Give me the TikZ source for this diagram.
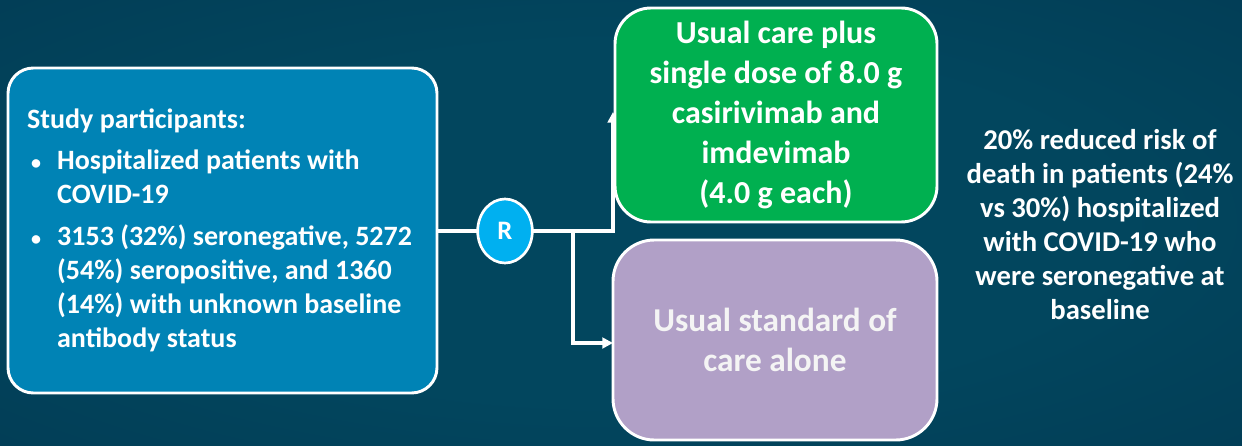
\documentclass[tikz,border=0pt]{standalone}
\usepackage{fontspec}
\setmainfont{Carlito}
\usetikzlibrary{arrows.meta,shapes.geometric}
\definecolor{bgin}{HTML}{02465E}
\definecolor{bgout}{HTML}{01304A}
\definecolor{boxblue}{HTML}{0083B5}
\definecolor{boxgreen}{HTML}{00B050}
\definecolor{boxpurple}{HTML}{B1A0C7}
\definecolor{rblue}{HTML}{00B0F0}
\definecolor{softwhite}{HTML}{F4F4F4}
\pgfdeclareradialshading{bgshade}{\pgfpoint{0bp}{0bp}}{color(0bp)=(bgin); color(20bp)=(bgin); color(62bp)=(bgout); color(75bp)=(bgout)}
\newcommand{\bul}{\hspace*{3pt}\makebox[19.5pt][l]{\fontsize{15pt}{15pt}\selectfont •}}
\newcommand{\ind}{\hspace*{22.5pt}}
\tikzset{
  boxbase/.style={draw=white, line width=2.2pt, text=white, font=\bfseries, align=center, inner sep=0pt},
  rnode/.style={ellipse, draw=white, line width=2pt, fill=rblue, minimum width=41pt, minimum height=48pt, inner sep=0pt, text=white, font=\bfseries\fontsize{20pt}{22pt}\selectfont},
  conn/.style={draw=white, line width=2.4pt},
  tip/.style={-{Triangle[length=8pt,width=8pt]}},
}
\begin{document}
\begin{tikzpicture}[x=0.75pt,y=-0.75pt]
\useasboundingbox (0,0) rectangle (1242,446);
\shade[shading=bgshade] (0,0) rectangle (1242,446);
\coordinate (Rc) at (505,231);
\coordinate (split) at (573,231);
\coordinate (up) at (613,112);
\coordinate (low) at (613,343);
\node[boxbase, fill=boxblue, rounded corners=19pt, minimum width=321.75pt, minimum height=243.75pt, align=left, font=\bfseries\fontsize{21pt}{25.5pt}\selectfont] (left) at (222.5,230.5) {%
\raisebox{-3pt}{\begin{minipage}{293pt}\raggedright
Study participants:\\[5pt]
\bul Hospitalized patients with\\
\ind COVID-19\\[6pt]
\bul 3153 (32\%) seronegative, 5272\\
\ind (54\%) seropositive, and 1360\\
\ind (14\%) with unknown baseline\\
\ind antibody status
\end{minipage}}};
\draw[conn] (left.east |- Rc) -- (Rc);
\draw[conn, tip] (Rc) -- (up |- Rc) -- (up);
\draw[conn, tip] (split) |- (low);
\node[rnode] (R) at (Rc) {R};
\node[boxbase, fill=boxgreen, rounded corners=27pt, minimum width=241.5pt, minimum height=160.5pt, font=\bfseries\fontsize{24pt}{30pt}\selectfont] (green) at (776,115) {Usual care plus\\single dose of 8.0 g\\casirivimab and\\imdevimab\\(4.0 g each)};
\node[boxbase, fill=boxpurple, rounded corners=31pt, minimum width=243pt, minimum height=150pt, text=softwhite, font=\bfseries\fontsize{25pt}{30pt}\selectfont] (purple) at (775,340) {Usual standard of\\care alone};
\node[text=white, font=\bfseries\fontsize{21.5pt}{25.5pt}\selectfont, align=center, inner sep=0pt] (result) at (1100,225) {20\% reduced risk of\\death in patients (24\%\\vs 30\%) hospitalized\\with COVID-19 who\\were seronegative at\\baseline};
\end{tikzpicture}
\end{document}
